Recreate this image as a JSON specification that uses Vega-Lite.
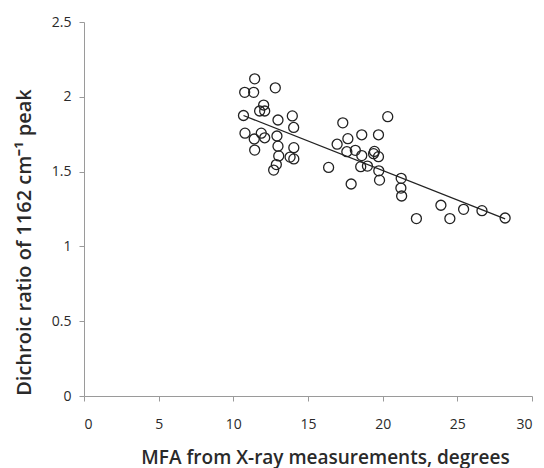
{
  "$schema": "https://vega.github.io/schema/vega-lite/v6.json",
  "width": 448,
  "height": 374,
  "autosize": {"type": "none"},
  "padding": {"left": 84, "top": 22, "right": 12, "bottom": 72},
  "background": "white",
  "config": {
    "view": {"stroke": null},
    "font": "Open Sans",
    "axis": {
      "grid": false,
      "domainColor": "#9a9a9a",
      "tickColor": "#9a9a9a",
      "tickSize": 5,
      "labelColor": "#2a2a2a",
      "labelFont": "Open Sans",
      "labelFontSize": 14,
      "titleFont": "Open Sans",
      "titleFontSize": 19,
      "titleFontWeight": 600,
      "titleColor": "#2a2a2a"
    }
  },
  "data": {
    "values": [
      {"mfa": 11.43, "ratio": 2.12},
      {"mfa": 10.76, "ratio": 2.03},
      {"mfa": 11.36, "ratio": 2.03},
      {"mfa": 12.81, "ratio": 2.06},
      {"mfa": 12.03, "ratio": 1.945},
      {"mfa": 11.76, "ratio": 1.905},
      {"mfa": 12.1, "ratio": 1.905},
      {"mfa": 10.68, "ratio": 1.875},
      {"mfa": 12.99, "ratio": 1.845},
      {"mfa": 13.95, "ratio": 1.872},
      {"mfa": 14.04, "ratio": 1.795},
      {"mfa": 10.78, "ratio": 1.757},
      {"mfa": 11.87, "ratio": 1.757},
      {"mfa": 11.4, "ratio": 1.718},
      {"mfa": 12.1, "ratio": 1.726},
      {"mfa": 12.92, "ratio": 1.738},
      {"mfa": 11.43, "ratio": 1.644},
      {"mfa": 12.99, "ratio": 1.67},
      {"mfa": 14.05, "ratio": 1.66},
      {"mfa": 13.04, "ratio": 1.605},
      {"mfa": 13.8, "ratio": 1.597},
      {"mfa": 14.05, "ratio": 1.585},
      {"mfa": 12.88, "ratio": 1.547},
      {"mfa": 12.7, "ratio": 1.51},
      {"mfa": 17.33, "ratio": 1.826},
      {"mfa": 20.34, "ratio": 1.867},
      {"mfa": 17.67, "ratio": 1.72},
      {"mfa": 18.6, "ratio": 1.746},
      {"mfa": 19.72, "ratio": 1.746},
      {"mfa": 16.95, "ratio": 1.683},
      {"mfa": 17.6, "ratio": 1.633},
      {"mfa": 18.17, "ratio": 1.642},
      {"mfa": 18.6, "ratio": 1.607},
      {"mfa": 19.45, "ratio": 1.635},
      {"mfa": 19.39, "ratio": 1.62},
      {"mfa": 19.72, "ratio": 1.6},
      {"mfa": 18.53, "ratio": 1.533},
      {"mfa": 18.98, "ratio": 1.537},
      {"mfa": 16.38, "ratio": 1.528},
      {"mfa": 19.74, "ratio": 1.505},
      {"mfa": 19.79, "ratio": 1.443},
      {"mfa": 17.89, "ratio": 1.417},
      {"mfa": 21.24, "ratio": 1.455},
      {"mfa": 21.22, "ratio": 1.39},
      {"mfa": 21.27, "ratio": 1.337},
      {"mfa": 23.9, "ratio": 1.275},
      {"mfa": 22.26, "ratio": 1.186},
      {"mfa": 24.5, "ratio": 1.186},
      {"mfa": 25.42, "ratio": 1.248},
      {"mfa": 26.65, "ratio": 1.239},
      {"mfa": 28.2, "ratio": 1.19}
    ]
  },
  "layer": [
    {
      "mark": {"type": "point", "shape": "circle", "filled": false, "stroke": "#222222", "strokeWidth": 1.3, "size": 100, "opacity": 1},
      "encoding": {
        "x": {
          "field": "mfa", "type": "quantitative",
          "scale": {"domain": [0, 30], "nice": false, "zero": false},
          "axis": {"values": [0, 5, 10, 15, 20, 25, 30], "format": "~g", "labelPadding": 16, "titlePadding": 17, "titleX": 241, "title": "MFA  from X-ray measurements, degrees"}
        },
        "y": {
          "field": "ratio", "type": "quantitative",
          "scale": {"domain": [0, 2.5], "nice": false, "zero": false},
          "axis": {"values": [0, 0.5, 1, 1.5, 2, 2.5], "format": "~g", "labelPadding": 8, "titlePadding": 17, "titleFontSize": 20, "titleY": 220, "title": "Dichroic ratio of 1162 cm⁻¹ peak"}
        }
      }
    },
    {
      "transform": [{"regression": "ratio", "on": "mfa", "extent": [10.68, 28.2]}],
      "mark": {"type": "line", "color": "#222222", "strokeWidth": 1.3},
      "encoding": {
        "x": {"field": "mfa", "type": "quantitative"},
        "y": {"field": "ratio", "type": "quantitative"}
      }
    }
  ]
}
